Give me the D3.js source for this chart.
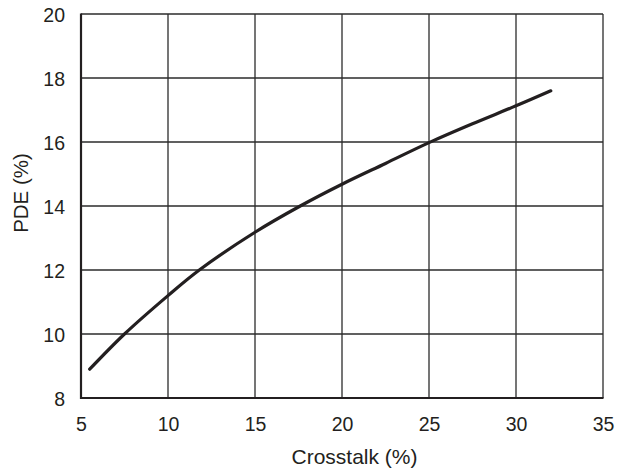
<!DOCTYPE html>
<html>
<head>
<meta charset="utf-8">
<script src="https://cdn.jsdelivr.net/npm/d3@7"></script>
<style>
    body { margin: 0; background: #fff; }
    text { font-family: "Liberation Sans", Arial, Helvetica, sans-serif; fill: #231f20; }
</style>
</head>
<body>
<svg id="chart"></svg>
<script>
// Curve values
const crosstalk = [5.5, 7.5, 10, 11.8, 15, 17.6, 20, 22.5, 25, 27.5, 30, 32];
const pde = [8.9, 10.0, 11.2, 12.0, 13.18, 14.0, 14.68, 15.33, 15.98, 16.57, 17.13, 17.6];

const xTicks = [5, 10, 15, 20, 25, 30, 35];
const yTicks = [8, 10, 12, 14, 16, 18, 20];

const width = 629;
const height = 468;
const margin = { top: 14, right: 26, bottom: 70, left: 81 };

const svg = d3.select('#chart')
    .attr('width', width)
    .attr('height', height);

const x = d3.scaleLinear().domain([5, 35]).range([margin.left, width - margin.right]);
const y = d3.scaleLinear().domain([8, 20]).range([height - margin.bottom, margin.top]);

// Grid
const grid = svg.append('g').attr('stroke', '#2b2b2b').attr('stroke-width', 1.3);
grid.selectAll('line.v')
    .data(xTicks.slice(1))
    .enter().append('line')
    .attr('x1', d => x(d)).attr('x2', d => x(d))
    .attr('y1', y(8)).attr('y2', y(20));
grid.selectAll('line.h')
    .data(yTicks.slice(1))
    .enter().append('line')
    .attr('x1', x(5)).attr('x2', x(35))
    .attr('y1', d => y(d)).attr('y2', d => y(d));

// Axes lines (left and bottom heavier)
svg.append('line')
    .attr('x1', x(5)).attr('x2', x(5))
    .attr('y1', y(20) - 0.5).attr('y2', y(8) + 1)
    .attr('stroke', '#231f20').attr('stroke-width', 2.2);
svg.append('line')
    .attr('x1', x(5) - 1).attr('x2', x(35) + 0.5)
    .attr('y1', y(8)).attr('y2', y(8))
    .attr('stroke', '#231f20').attr('stroke-width', 2.2);

// Tick labels
const xAxis = d3.axisBottom(x).tickValues(xTicks).tickSize(0).tickPadding(0);
const xg = svg.append('g')
    .attr('transform', `translate(0,${y(8)})`)
    .call(xAxis);
xg.select('.domain').remove();
xg.selectAll('text')
    .attr('y', 32.5)
    .attr('dy', 0)
    .style('font-size', '19.5px')
    .style('fill', '#231f20');

const yAxis = d3.axisLeft(y).tickValues(yTicks).tickSize(0).tickPadding(0);
const yg = svg.append('g')
    .attr('transform', `translate(${x(5)},0)`)
    .call(yAxis);
yg.select('.domain').remove();
yg.selectAll('text')
    .attr('x', -16)
    .attr('dy', '0.36em')
    .style('font-size', '19.5px')
    .style('fill', '#231f20');

// Axis titles
svg.append('text')
    .attr('x', 354.5)
    .attr('y', 464)
    .attr('text-anchor', 'middle')
    .style('font-size', '21px')
    .text('Crosstalk (%)');

svg.append('text')
    .attr('transform', 'translate(28,193) rotate(-90)')
    .attr('text-anchor', 'middle')
    .style('font-size', '20.5px')
    .text('PDE (%)');

// Curve
const data = crosstalk.map((c, i) => ({ x: c, y: pde[i] }));
const line = d3.line()
    .x(d => x(d.x))
    .y(d => y(d.y))
    .curve(d3.curveCatmullRom.alpha(0.5));

svg.append('path')
    .datum(data)
    .attr('d', line)
    .attr('fill', 'none')
    .attr('stroke', '#231f20')
    .attr('stroke-width', 3.2)
    .attr('stroke-linecap', 'round');
</script>
</body>
</html>
